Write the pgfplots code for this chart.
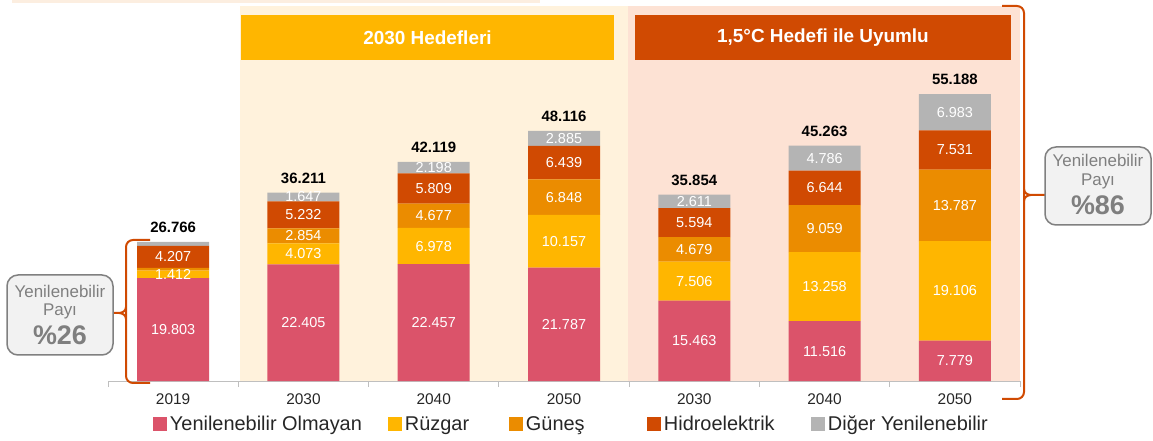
\documentclass[border=0pt]{standalone}
\usepackage{pgfplots}
\pgfplotsset{compat=1.18}
\usepackage{pgfplotstable}
\usepackage{fontspec}
\setmainfont{Liberation Sans}
\definecolor{cPink}{HTML}{DB536A}
\definecolor{cYellow}{HTML}{FFB600}
\definecolor{cOrange}{HTML}{EB8C00}
\definecolor{cDark}{HTML}{D04A02}
\definecolor{cGrey}{HTML}{B4B4B4}
\definecolor{cCream}{HTML}{FFF2DC}
\definecolor{cPinkBg}{HTML}{FDE2D4}
\definecolor{cTop}{HTML}{FCEEE0}
\definecolor{cAxis}{HTML}{BFBFBF}
\definecolor{cTick}{HTML}{262626}
\definecolor{cBoxFill}{HTML}{F2F2F2}
\definecolor{cBoxLine}{HTML}{808080}
\definecolor{cBoxText}{HTML}{7F7F7F}

\pgfplotstableread{
x no wind solar hydro other total
0 19.803 1.412 0.550 4.207 0.794 26.766
1 22.405 4.073 2.854 5.232 1.647 36.211
2 22.457 6.978 4.677 5.809 2.198 42.119
3 21.787 10.157 6.848 6.439 2.885 48.116
4 15.463 7.506 4.679 5.594 2.611 35.854
5 11.516 13.258 9.059 6.644 4.786 45.263
6 7.779 19.106 13.787 7.531 6.983 55.188
}\data

\begin{document}
\begin{tikzpicture}
\path[use as bounding box] (0,0) rectangle (1153bp,441bp);
\begin{scope}[x=1bp,y=1bp]
\fill[cTop] (12,438) rectangle (540,441);
\fill[cCream] (240,60) rectangle (628,434.5);
\fill[cPinkBg] (628,60) rectangle (1020,434.5);
\fill[cYellow] (241,381) rectangle (614,426);
\node[text=white, font=\fontsize{19}{22}\selectfont\bfseries] at (427.5,403.5) {2030 Hedefleri};
\fill[cDark] (635,381) rectangle (1011,426);
\node[text=white, font=\fontsize{19}{22}\selectfont\bfseries] at (823,403.5) {1,5°C Hedefi ile Uyumlu};
\end{scope}

\begin{axis}[at={(108bp,60bp)}, anchor=south west, scale only axis,
  width=912bp, height=374.4bp,
  xmin=-0.5, xmax=6.5, ymin=0, ymax=72, enlargelimits=false, clip=false,
  ybar stacked, bar width=72bp,
  axis y line=none, axis x line*=bottom,
  x axis line style={draw=cAxis, line width=1bp, -},
  xtick={0,...,6}, xticklabels={2019,2030,2040,2050,2030,2040,2050},
  major tick length=0pt,
  minor xtick={-0.5,0.5,...,6.5}, minor tick length=6bp, tick align=outside,
  minor tick style={draw=cAxis, line width=1bp},
  xticklabel style={font=\fontsize{15.5}{18}\selectfont, text=cTick, anchor=center, yshift=-18.5bp},
  legend columns=5,
  legend style={at={(0.0493,-0.1148)}, anchor=west, draw=none, fill=none,
    inner sep=0pt, outer sep=0pt, font=\fontsize{20}{24}\selectfont, text=cTick,
    /tikz/every even column/.append style={column sep=0pt},
    /tikz/every odd column/.append style={column sep=0pt},
    nodes={inner sep=0pt}},
  legend image code/.code={\fill[#1] (0bp,-7bp) rectangle (14bp,7bp);},
]
\addplot[fill=cPink, draw=none] table[x=x,y=no]{\data};
\addlegendentry{\makebox[221bp][l]{\hspace{3bp}Yenilenebilir Olmayan}}
\addplot[fill=cYellow, draw=none] table[x=x,y=wind]{\data};
\addlegendentry{\makebox[107bp][l]{\hspace{3bp}Rüzgar}}
\addplot[fill=cOrange, draw=none] table[x=x,y=solar]{\data};
\addlegendentry{\makebox[124bp][l]{\hspace{3bp}Güneş}}
\addplot[fill=cDark, draw=none] table[x=x,y=hydro]{\data};
\addlegendentry{\makebox[150bp][l]{\hspace{3bp}Hidroelektrik}}
\addplot[fill=cGrey, draw=none] table[x=x,y=other]{\data};
\addlegendentry{\hspace{3bp}Diğer Yenilenebilir}
\end{axis}

\begin{axis}[at={(108bp,60bp)}, anchor=south west, scale only axis,
  width=912bp, height=374.4bp,
  xmin=-0.5, xmax=6.5, ymin=0, ymax=72, enlargelimits=false, clip=false,
  hide axis, point meta=explicit symbolic,
  every node near coord/.append style={anchor=center, text=white, inner sep=0pt,
    font=\fontsize{14.5}{17}\selectfont},
]
\addplot[draw=none, mark=none, nodes near coords] table[x=x, y expr=\thisrow{no}/2, meta=no]{\data};
\addplot[draw=none, mark=none, nodes near coords] table[x=x, y expr=\thisrow{no}+\thisrow{wind}/2, meta=wind]{\data};
\addplot[draw=none, mark=none, nodes near coords, skip coords between index={0}{1}] table[x=x, y expr=\thisrow{no}+\thisrow{wind}+\thisrow{solar}/2, meta=solar]{\data};
\addplot[draw=none, mark=none, nodes near coords] table[x=x, y expr=\thisrow{no}+\thisrow{wind}+\thisrow{solar}+\thisrow{hydro}/2, meta=hydro]{\data};
\addplot[draw=none, mark=none, nodes near coords, skip coords between index={0}{1}] table[x=x, y expr=\thisrow{no}+\thisrow{wind}+\thisrow{solar}+\thisrow{hydro}+\thisrow{other}/2, meta=other]{\data};
\addplot[draw=none, mark=none, nodes near coords,
  every node near coord/.append style={anchor=south, yshift=9bp, text=black, font=\fontsize{15}{18}\selectfont\bfseries}]
  table[x=x, y=total, meta=total]{\data};
\end{axis}

\begin{scope}[x=1bp,y=1bp, line width=2bp, draw=cDark]
% left brace
\draw[cDark, rounded corners=7bp] (150,201) -- (126,201) -- (126,58) -- (150,58);
\draw[cDark] (126,134) to[out=-90,in=0] (119,128) -- (113,128);
\draw[cDark] (126,122) to[out=90,in=0] (119,128);
% right brace
\draw[cDark, rounded corners=7bp] (1002,435) -- (1024,435) -- (1024,42) -- (1002,42);
\draw[cDark] (1024,252) to[out=-90,in=180] (1031,246) -- (1046,246);
\draw[cDark] (1024,240) to[out=90,in=180] (1031,246);
% boxes
\draw[draw=cBoxLine, fill=cBoxFill, line width=1.5bp, rounded corners=11bp] (7,86) rectangle (113,166);
\node[text=cBoxText, font=\fontsize{17}{20}\selectfont] at (60,150) {Yenilenebilir};
\node[text=cBoxText, font=\fontsize{17}{20}\selectfont] at (60,130) {Payı};
\node[text=cBoxText, font=\fontsize{27}{30}\selectfont\bfseries] at (60,106) {\%26};
\draw[draw=cBoxLine, fill=cBoxFill, line width=1.5bp, rounded corners=11bp] (1045,216) rectangle (1151,294);
\node[text=cBoxText, font=\fontsize{17}{20}\selectfont] at (1098,281) {Yenilenebilir};
\node[text=cBoxText, font=\fontsize{17}{20}\selectfont] at (1098,260) {Payı};
\node[text=cBoxText, font=\fontsize{27}{30}\selectfont\bfseries] at (1098,236) {\%86};
\end{scope}
\end{tikzpicture}
\end{document}
